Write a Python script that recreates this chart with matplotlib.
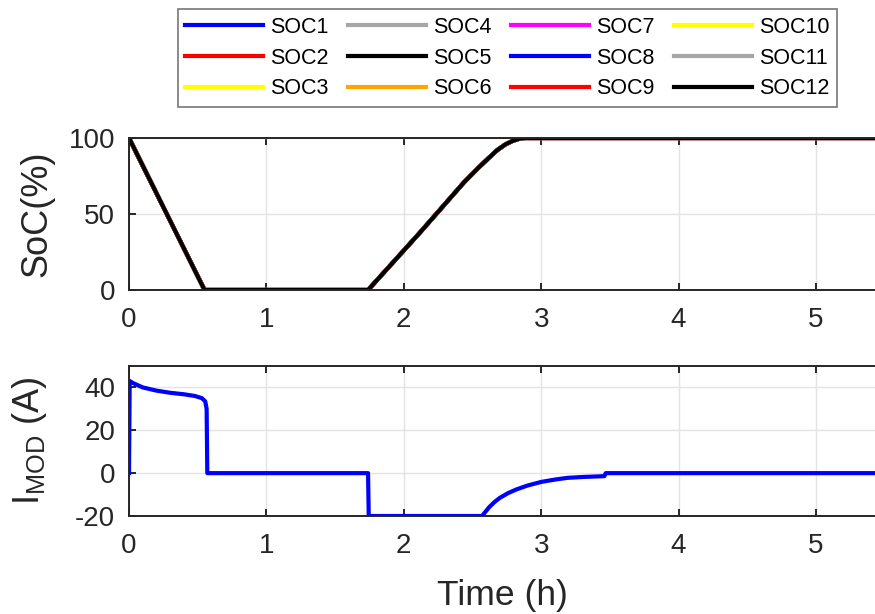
import numpy as np
import matplotlib
matplotlib.use('Agg')
import matplotlib.pyplot as plt

plt.rcParams['font.family'] = ['Liberation Sans', 'DejaVu Sans']
plt.rcParams['mathtext.default'] = 'regular'
plt.rcParams['axes.unicode_minus'] = False

# SOC of the 12 modules (all curves lie on top of each other)
soc_t = [0.0, 0.55, 1.74, 2.12, 2.44, 2.55, 2.62, 2.68, 2.74, 2.79, 2.84, 2.88, 5.43]
soc_pct = [100, 0, 0, 38, 71, 81, 87, 92, 95.8, 98, 99.5, 100, 100]

soc_names = ['SOC%d' % i for i in range(1, 13)]
soc_colors = ['#0000ff', '#ff0000', '#ffff00', '#a6a6a6', '#000000', '#ffa500',
              '#ff00ff', '#0000ff', '#ff0000', '#ffff00', '#a6a6a6', '#000000']

# module current
cur_t = [0.0, 0.005, 0.03, 0.1, 0.2, 0.3, 0.4, 0.48, 0.53, 0.555, 0.565, 0.57,
         1.74, 1.745, 2.57, 2.62, 2.66, 2.70, 2.76, 2.82, 2.9, 3.0, 3.1, 3.19,
         3.3, 3.46, 3.47, 5.43]
cur_a = [0, 43, 42, 40, 38.5, 37.5, 36.8, 36, 35, 33.5, 30, 0,
         0, -20, -20, -16, -13.5, -11.5, -9.3, -7.6, -5.8, -4.1, -3.0, -2.2,
         -1.8, -1.4, 0, 0]

xticks = [0, 1, 2, 3, 4, 5]
spine_c = '#262626'


def style(ax):
    ax.set_xlim(0, 5.43)
    ax.set_xticks(xticks)
    ax.grid(True, color='#e3e3e3', lw=1)
    ax.set_axisbelow(True)
    for s in ['left', 'bottom', 'top']:
        ax.spines[s].set_color(spine_c)
        ax.spines[s].set_linewidth(1.4)
    ax.spines['right'].set_visible(False)
    ax.tick_params(direction='in', length=5, width=1.4, color=spine_c,
                   labelsize=20, labelcolor='#262626', top=True)
    ax.tick_params(axis='x', pad=12)
    ax.tick_params(axis='y', pad=10)


fig = plt.figure(figsize=(8.75, 6.14), dpi=100)
ax1 = fig.add_axes([129 / 875, 1 - 290 / 614, 1 - 129 / 875, 152 / 614])
ax2 = fig.add_axes([129 / 875, 1 - 516 / 614, 1 - 129 / 875, 150 / 614])

handles = []
for name, c in zip(soc_names, soc_colors):
    h, = ax1.plot(soc_t, soc_pct, color=c, lw=3, label=name)
    handles.append(h)
ax1.set_ylim(0, 100)
ax1.set_yticks([0, 50, 100])
style(ax1)
ax1.set_ylabel('SoC(%)', fontsize=26, color='#262626', labelpad=10)

ax2.plot(cur_t, cur_a, color='#0000ff', lw=3)
ax2.set_ylim(-20, 50)
ax2.set_yticks([-20, 0, 20, 40])
style(ax2)
ax2.set_ylabel('I$_{MOD}$ (A)', fontsize=26, color='#262626', labelpad=19)
ax2.set_xlabel('Time (h)', fontsize=25.5, color='#262626', labelpad=15)

leg = fig.legend(handles=handles, loc='center', bbox_to_anchor=(507.5 / 875, 1 - 58 / 614),
                 ncol=4, fontsize=15.5, handlelength=3.6, handletextpad=0.35,
                 columnspacing=0.9, labelspacing=0.45, fancybox=False,
                 edgecolor='#555555', borderpad=0.35)
leg.get_frame().set_linewidth(1.2)
for line in leg.get_lines():
    line.set_linewidth(3)

fig.savefig('out.png', dpi=100)
